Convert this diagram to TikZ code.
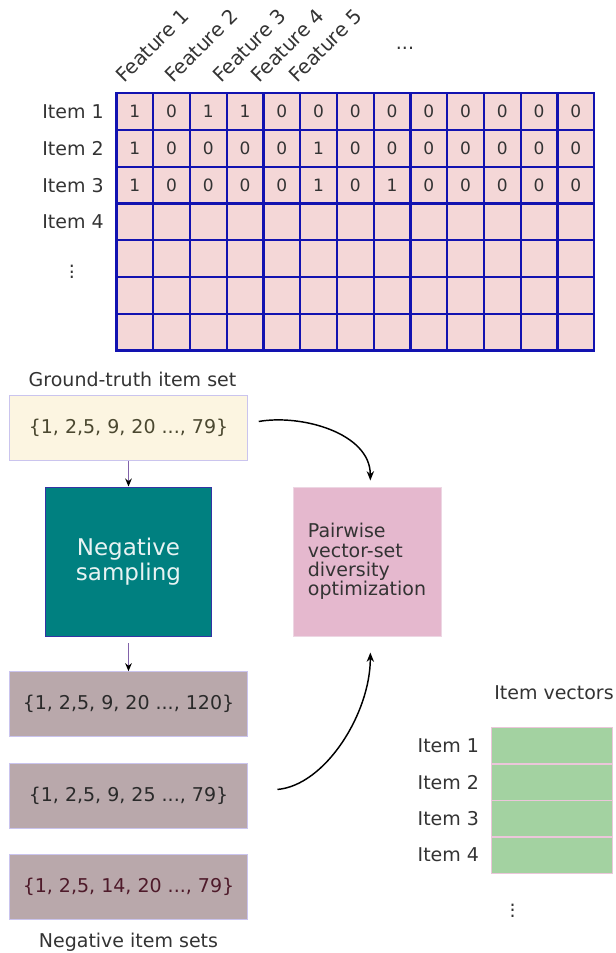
\documentclass[tikz,border=0pt]{standalone}
\usepackage{fontspec}
\setmainfont{DejaVu Sans}
\usetikzlibrary{arrows.meta, positioning}

\definecolor{cellpink}{HTML}{F4D7D7}
\definecolor{gridblue}{HTML}{1212B0}
\definecolor{gtyellow}{HTML}{FCF5E1}
\definecolor{gttext}{HTML}{4B4830}
\definecolor{setborder}{HTML}{CAC4EE}
\definecolor{sampteal}{HTML}{008080}
\definecolor{sampborder}{HTML}{3434A4}
\definecolor{samptext}{HTML}{E8F3F3}
\definecolor{optpink}{HTML}{E5B8CE}
\definecolor{optborder}{HTML}{EDD6E3}
\definecolor{negmauve}{HTML}{B9A8AB}
\definecolor{negdark}{HTML}{2A2A2A}
\definecolor{negred}{HTML}{4E1A2A}
\definecolor{vecgreen}{HTML}{A3D2A1}
\definecolor{vecborder}{HTML}{EBC6DA}
\definecolor{flowpurple}{HTML}{8262AA}
\definecolor{labelgray}{HTML}{333333}

\begin{document}
\begin{tikzpicture}[x=0.75pt, y=-0.75pt,
  lbl/.style={font=\fontsize{14.25}{17}\selectfont, text=labelgray, inner sep=0pt},
  cell/.style={draw=gridblue, line width=1.6pt, fill=cellpink, minimum size=27.56pt,
    inner sep=0pt, font=\fontsize{12.75}{15}\selectfont, text=labelgray},
  setbox/.style={draw=setborder, line width=0.75pt, minimum width=178.9pt,
    minimum height=48.5pt, inner sep=0pt, font=\fontsize{14.25}{17}\selectfont},
  vecrow/.style={draw=vecborder, line width=1pt, fill=vecgreen, minimum width=90.75pt,
    minimum height=27.4pt, inner sep=0pt},
  flow/.style={draw=flowpurple, line width=1pt, -{Stealth[length=6pt, width=5pt, color=black]}},
  curve/.style={draw=black, line width=1.1pt, -{Stealth[length=7pt, width=5.5pt]}}
]
\useasboundingbox (0,0) rectangle (615,953);

% Item-feature matrix
\foreach \r in {1,...,7}
  \foreach \c in {1,...,13}
    \node[cell] (c\r-\c) at ({116.5+36.75*(\c-0.5)},{93.3+36.75*(\r-0.5)}) {};
\foreach \bits [count=\r] in {{1,0,1,1,0,0,0,0,0,0,0,0,0},
                              {1,0,0,0,0,1,0,0,0,0,0,0,0},
                              {1,0,0,0,0,1,0,1,0,0,0,0,0}}
  \foreach \v [count=\c] in \bits
    \node[lbl, font=\fontsize{12.75}{15}\selectfont] (v\r-\c) at (c\r-\c) {\v};

% Row and column labels
\foreach \i in {1,...,4}
  \node[lbl, left=8.6pt of c\i-1] (item\i) {Item \i};
\node[lbl] (rowdots) at (72,268) {$\vdots$};
\foreach \x [count=\f] in {124,173,221,259,297}
  \node[lbl, font=\fontsize{14.8}{17}\selectfont, rotate=45, anchor=base west] (feat\f) at (\x,84) {Feature \f};
\node[lbl] (coldots) at (405,48) {...};

% Ground-truth set and negative sampling
\node[setbox, fill=gtyellow, text=gttext] (gt) at (128.5,428) {\{1, 2,5, 9, 20 ..., 79\}};
\node[lbl, above=6pt of gt, xshift=3pt] (gtlabel) {Ground-truth item set};
\node[draw=sampborder, line width=0.75pt, fill=sampteal, text=samptext, align=center,
  minimum width=125pt, minimum height=111.75pt, font=\fontsize{17.25}{18.75}\selectfont]
  (samp) at (128.5,561.5) {Negative\\sampling};
\node[draw=optborder, line width=0.75pt, fill=optpink, text=labelgray, align=left,
  minimum width=111pt, minimum height=111.75pt, font=\fontsize{14.25}{14.5}\selectfont]
  (opt) at (367,561.5) {Pairwise\\vector-set\\diversity\\optimization};

% Negative item sets
\node[setbox, fill=negmauve, text=negdark] (neg1) at (128.5,704) {\{1, 2,5, 9, 20 ..., 120\}};
\node[setbox, fill=negmauve, text=negdark] (neg2) at (128.5,796) {\{1, 2,5, 9, 25 ..., 79\}};
\node[setbox, fill=negmauve, text=negred] (neg3) at (128.5,887) {\{1, 2,5, 14, 20 ..., 79\}};
\node[lbl, below=10pt of neg3] (neglabel) {Negative item sets};

% Item vectors
\node[lbl, anchor=west] (veclabel) at (494,693) {Item vectors};
\foreach \i in {1,...,4} {
  \node[vecrow] (vec\i) at (552.2,{745.6+36.5*(\i-1)}) {};
  \node[lbl, left=8.8pt of vec\i] (vitem\i) {Item \i};
}
\node[lbl] (vecdots) at (512.7,906.7) {$\vdots$};

% Connectors
\draw[flow] (gt) -- (samp);
\draw[flow, shorten <=5pt] (samp) -- (neg1);
\draw[curve, shorten <=8pt, shorten >=4.5pt] ([yshift=3.5pt]gt.east) to[out=10, in=90] ([xshift=2.5pt]opt.north);
\draw[curve, shorten <=22pt, shorten >=12pt] ([yshift=3pt]neg2.east) to[out=5, in=-90] ([xshift=2.5pt]opt.south);

\end{tikzpicture}
\end{document}
